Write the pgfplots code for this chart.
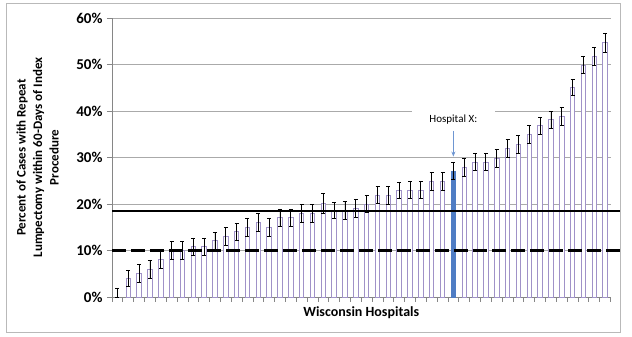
\documentclass[border=0pt]{standalone}
\usepackage{pgfplots}
\pgfplotsset{compat=1.18}
\usepackage{pgfplotstable}
\usepackage{fontspec}
\setmainfont{Carlito}
\usetikzlibrary{arrows.meta}
\definecolor{lav}{RGB}{160,146,200}
\definecolor{hx}{RGB}{79,125,196}
\definecolor{arr}{RGB}{110,150,210}
\definecolor{gridc}{RGB}{170,170,170}
\definecolor{axc}{RGB}{134,134,134}

\pgfplotstableread{
x y ep em
0 0.0 1.9 0.0
1 4.0 1.8 1.8
2 5.1 1.9 1.9
3 6.0 1.9 1.9
4 8.1 2.0 2.0
5 10.0 1.9 1.9
6 10.0 1.9 1.9
7 10.8 1.9 1.9
8 10.8 1.9 1.9
9 12.1 1.8 1.8
10 13.1 1.9 1.9
11 14.0 1.8 1.8
12 15.0 1.9 1.9
13 16.1 1.9 1.9
14 15.0 1.9 1.9
15 17.0 1.9 1.9
16 17.0 1.9 1.9
17 18.0 1.9 1.9
18 18.0 1.9 1.9
19 20.1 2.1 2.1
20 18.6 1.8 1.8
21 18.6 1.9 1.9
22 19.0 1.9 1.9
23 20.0 1.9 1.9
24 21.9 1.8 1.8
25 21.9 1.9 1.9
26 23.0 1.7 1.7
27 23.0 1.9 1.9
28 23.0 1.9 1.9
29 24.8 1.9 1.9
30 24.8 1.9 1.9
32 27.9 1.9 1.9
33 29.0 1.8 1.8
34 29.0 1.8 1.8
35 29.8 1.9 1.9
36 32.0 1.9 1.9
37 32.8 1.9 1.9
38 35.0 1.9 1.9
39 36.8 1.9 1.9
40 38.1 1.9 1.9
41 38.8 1.9 1.9
42 45.0 1.7 1.7
43 49.9 1.9 1.9
44 51.7 1.9 1.9
45 54.7 2.0 2.0
}\dataA

\pgfplotstableread{
x y ep em
31 27.1 1.9 1.9
}\dataB

\begin{document}
\begin{tikzpicture}
\begin{axis}[
  name=ax,
  scale only axis,
  width=498.5pt, height=279pt,
  xmin=-0.5, xmax=45.5,
  ymin=0, ymax=60,
  axis x line=bottom, axis y line=left,
  axis line style={axc, line width=0.8pt, -},
  xtick={-0.5,0.5,...,45.5},
  xticklabels={},
  ytick={0,10,...,60},
  yticklabels={0\%,10\%,20\%,30\%,40\%,50\%,60\%},
  yticklabel style={font=\bfseries\fontsize{15}{17}\selectfont, xshift=-1pt},
  tick align=outside,
  major tick length=5pt,
  tick style={axc, line width=0.7pt},
  ymajorgrids,
  grid style={gridc, line width=0.8pt},
  xlabel={Wisconsin Hospitals},
  xlabel style={at={(axis description cs:0.5,-0.0573)}, anchor=center, font=\bfseries\fontsize{14}{16}\selectfont},
  ylabel={Percent of Cases with Repeat\\Lumpectomy within 60-Days of Index\\Procedure},
  ylabel style={at={(axis description cs:-0.1494,0.5)}, anchor=center, align=center, font=\bfseries\fontsize{13}{16.5}\selectfont},
  clip=false,
]
\addplot[ybar, bar width=4.5pt, bar shift=0pt, draw=lav, fill=white, line width=0.9pt,
  error bars/.cd, y dir=both, y explicit,
  error bar style={black, line width=0.8pt},
  error mark options={rotate=90, black, mark size=2pt, line width=0.8pt}]
  table[x=x, y=y, y error plus=ep, y error minus=em]{\dataA};
\addplot[ybar, bar width=4.5pt, bar shift=0pt, draw=hx, fill=hx, line width=0.5pt,
  error bars/.cd, y dir=both, y explicit,
  error bar style={black, line width=0.8pt},
  error mark options={rotate=90, black, mark size=2pt, line width=0.8pt}]
  table[x=x, y=y, y error plus=ep, y error minus=em]{\dataB};
\addplot[black, line width=1.9pt, no marks] coordinates {(-0.5,18.5) (46.38,18.5)};
\addplot[black, line width=2.1pt, no marks, dash pattern=on 14pt off 5pt] coordinates {(-0.5,10) (46.38,10)};
\node[fill=white, inner sep=0pt, minimum width=83pt, minimum height=22pt, font=\fontsize{11}{13}\selectfont] at (axis cs:31,38.1) {Hospital X:};
\draw[arr, line width=0.9pt, -{Stealth[length=5pt,width=4pt]}] (axis cs:31,35.7) -- (axis cs:31,30.2);
\end{axis}
\draw[gray!55, line width=0.8pt] ([xshift=-106pt,yshift=-35pt]ax.south west) rectangle ([xshift=9.5pt,yshift=15pt]ax.north east);
\path ([xshift=-112pt,yshift=-40pt]ax.south west) rectangle ([xshift=21.5pt,yshift=18pt]ax.north east);
\end{tikzpicture}
\end{document}
